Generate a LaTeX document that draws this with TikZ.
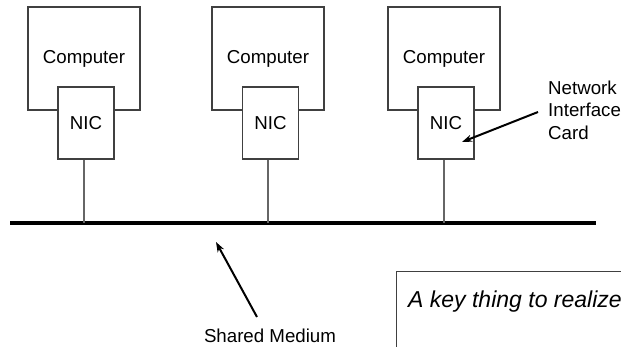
\documentclass[tikz,border=0pt]{standalone}
\usepackage{fontspec}
\setmainfont{Liberation Sans}
\usetikzlibrary{arrows.meta}

\begin{document}
\begin{tikzpicture}[x=1pt,y=-1pt,
  every node/.style={font=\fontsize{18.7}{22.5}\selectfont,inner sep=0pt},
  host/.style={draw=black!75,line width=1.3pt,fill=white,minimum width=112pt,minimum height=103pt},
  card/.style={draw=black!75,line width=1.3pt,fill=white,minimum width=56pt,minimum height=72pt},
  tap/.style={draw=black!60,line width=1.3pt},
  bus/.style={draw=black,line width=4pt},
  pointer/.style={draw=black,line width=2pt,-{Stealth[length=10pt,width=7pt,inset=3pt]}}]
\useasboundingbox (0,0) rectangle (621,347);
% three hosts, each with its card
\node[host] (pc1) at (84, 58.5) {Computer};
\node[host] (pc2) at (268, 58.5) {Computer};
\node[host] (pc3) at (444, 58.5) {Computer};
\node[card] (nic1) at (86, 123) {NIC};
\node[card] (nic2) at (270.5, 123) {NIC};
\node[card] (nic3) at (446, 123) {NIC};
% the shared cable
\coordinate (busL) at (10, 223.5);
\coordinate (busR) at (596, 223.5);
\draw[bus] (busL) -- (busR);
\draw[tap] (nic1.south -| pc1) -- (pc1 |- busL);
\draw[tap] (nic2.south -| pc2) -- (pc2 |- busL);
\draw[tap] (nic3.south -| pc3) -- (pc3 |- busL);
% labels
\node[anchor=west,align=left] (niclabel) at (548, 110) {Network\\Interface\\Card};
\coordinate (nictip) at (462, 142);
\draw[pointer] (niclabel.west |- 0,112) ++(-10,0) -- (nictip);
\node (medium) at (270, 336) {Shared Medium};
\coordinate (mediumtip) at (216, 242);
\draw[pointer] (257, 317) -- (mediumtip);
% note box, running off the page
\node[draw=black!75,line width=1.3pt,anchor=north west,minimum width=260pt,minimum height=120pt]
  (keybox) at (396, 271) {};
\node[anchor=west,font=\fontsize{23}{27}\selectfont\itshape] (keytext)
  at ([xshift=12pt,yshift=-31pt]keybox.north west) {A key thing to realize};
\end{tikzpicture}
\end{document}
